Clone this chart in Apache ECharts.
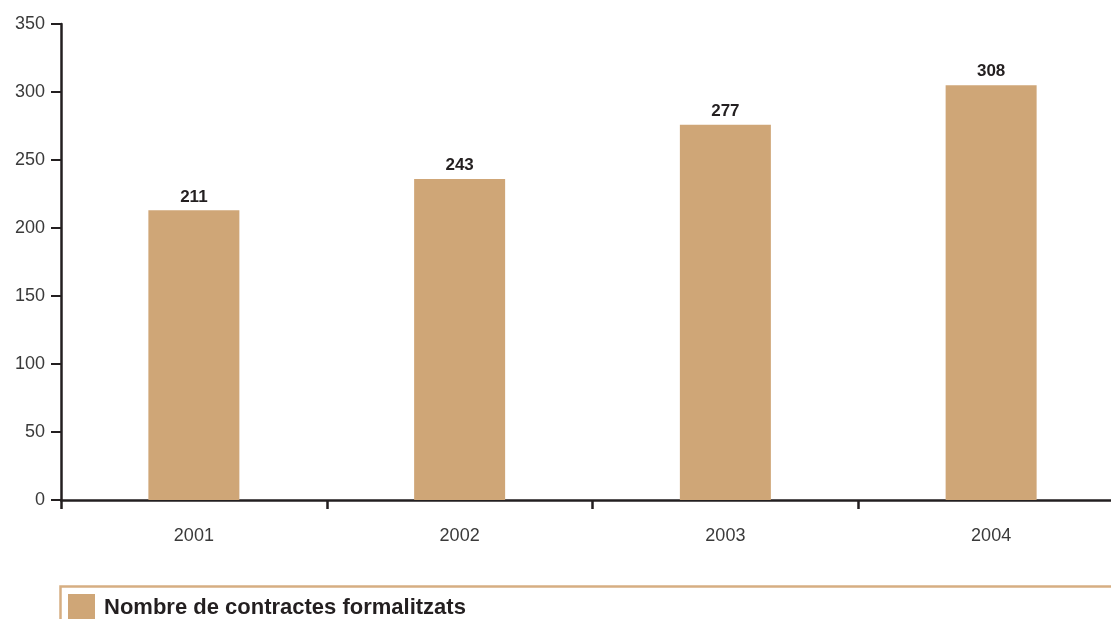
<!DOCTYPE html>
<html>
<head>
<meta charset="utf-8">
<script src="https://cdn.jsdelivr.net/npm/echarts@6/dist/echarts.min.js"></script>
<style>
  html, body { margin: 0; padding: 0; background: #fff; }
  #chart { width: 1111px; height: 619px; }
</style>
</head>
<body>
<div id="chart"></div>
<script>
// years on the x axis
const years = ['2001', '2002', '2003', '2004']
// bar heights as drawn in the picture
const contractValues = [213, 236, 276, 305]
// numbers printed above the bars
const contractLabels = ['211', '243', '277', '308']
const seriesName = 'Nombre de contractes formalitzats'

const tan = '#cfa677'
const ink = '#231f20'
const font = 'Liberation Sans, Arial, sans-serif'

const chart = echarts.init(document.getElementById('chart'))

chart.setOption({
  animation: false,
  // the last category band runs past the right edge of the picture
  grid: { left: 61, top: 24, bottom: 119, width: 1063, outerBoundsMode: 'none' },
  legend: {
    left: 68,
    top: 594,
    icon: 'rect',
    itemWidth: 27,
    itemHeight: 27,
    padding: 0,
    textStyle: { color: ink, fontSize: 22, fontWeight: 'bold', fontFamily: font, padding: [4, 0, 0, 4] },
    data: [seriesName]
  },
  graphic: [
    {
      type: 'rect',
      silent: true,
      shape: { x: 60.5, y: 586.5, width: 1100, height: 60 },
      style: { fill: 'none', stroke: '#d6ae82', lineWidth: 2.5 }
    }
  ],
  xAxis: {
    type: 'category',
    data: years,
    axisLine: { lineStyle: { color: ink, width: 2.5 } },
    axisTick: { show: true, length: 9, lineStyle: { color: ink, width: 2.5 } },
    axisLabel: { color: '#3a3a3a', fontSize: 18, margin: 27, fontFamily: font }
  },
  yAxis: {
    type: 'value',
    min: 0,
    max: 350,
    interval: 50,
    splitLine: { show: false },
    axisLine: { show: true, lineStyle: { color: ink, width: 2.5 } },
    axisTick: { show: true, length: 10, lineStyle: { color: ink, width: 2 } },
    axisLabel: { color: '#3a3a3a', fontSize: 18, margin: 16, fontFamily: font }
  },
  series: [
    {
      name: seriesName,
      type: 'bar',
      data: contractValues,
      barWidth: 91,
      itemStyle: { color: tan },
      label: {
        show: true,
        position: 'top',
        distance: 5,
        color: ink,
        fontSize: 17,
        fontWeight: 'bold',
        fontFamily: font,
        formatter: p => contractLabels[p.dataIndex]
      }
    }
  ]
})
</script>
</body>
</html>
